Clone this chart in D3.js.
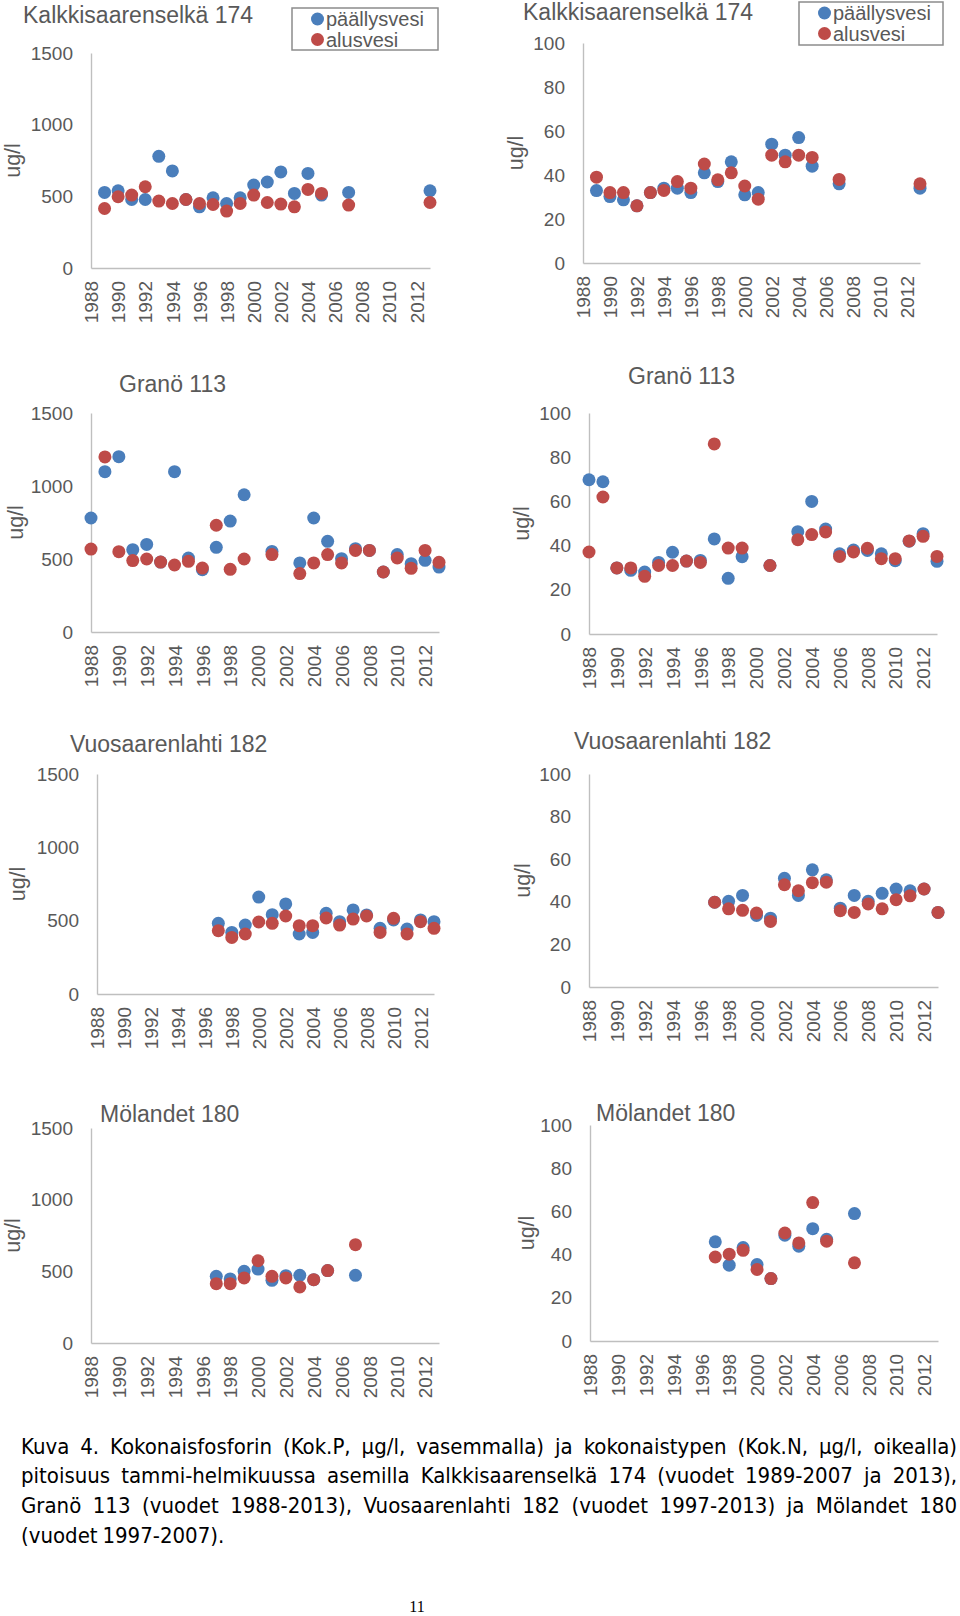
<!DOCTYPE html>
<html>
<head>
<meta charset="utf-8">
<script src="https://cdn.jsdelivr.net/npm/d3@7"></script>
<style>
  html, body { margin: 0; padding: 0; background: #fff; }
  svg { display: block; }
</style>
</head>
<body>
<svg id="chart" width="960" height="1616"></svg>
<script>
// ---------------- DATA ----------------
const categories = [1988,1989,1990,1991,1992,1993,1994,1995,1996,1997,1998,1999,2000,
                    2001,2002,2003,2004,2005,2006,2007,2008,2009,2010,2011,2012,2013];
const xTickLabels = ["1988","1990","1992","1994","1996","1998","2000","2002","2004","2006","2008","2010","2012"];
const yTicksP = [0, 500, 1000, 1500];
const yTicksN = [0, 20, 40, 60, 80, 100];
const seriesNames = ["päällysvesi", "alusvesi"];

// Kalkkisaarenselkä 174
const kalkYears = [1989,1990,1991,1992,1993,1994,1995,1996,1997,1998,1999,2000,2001,2002,2003,2004,2005,2007,2013];
const kalkP_surface = [527,539,478,478,779,677,478,427,490,450,490,579,600,670,520,660,509,527,539];
const kalkP_bottom  = [415,497,509,567,467,450,478,450,443,397,450,509,457,446,427,548,520,439,457];
const kalkN_surface = [32.9,30.2,28.7,26,32,34,34,32,41,37,46,31,32,54,49,57,44,36,34];
const kalkN_bottom  = [39,32,32,26,32,33,37,34,45,37.8,41,35,29,49,46,49,48,38,36];

// Granö 113
const granoYears = [1988,1989,1990,1991,1992,1993,1994,1995,1996,1997,1998,1999,2001,2003,2004,2005,2006,2007,2008,2009,2010,2011,2012,2013];
const granoP_surface = [781,1098,1201,564,600,479,1098,507,427,580,760,940,552,473,781,621,502,571,559,411,530,468,491,445];
const granoP_bottom  = [568,1199,550,489,500,479,459,484,438,731,429,500,530,400,473,530,473,559,559,411,507,436,559,477];
const granoN_surface = [69.8,68.9,29.9,28.8,28,32.4,37,33,33.3,43,25.2,35,31,46.3,60,47.5,36.3,38,37.8,36.3,33.2,42,45.4,32.9];
const granoN_bottom  = [37.1,62,29.9,29.9,26.1,31,31,33,32.4,86,38.9,38.9,31,42.7,45,46.2,35.1,37.1,38.8,34.1,34.1,42.1,44.2,35.1];

// Vuosaarenlahti 182
const vuoYears = [1997,1998,1999,2000,2001,2002,2003,2004,2005,2006,2007,2008,2009,2010,2011,2012,2013];
const vuoP_surface = [482,420,470,661,541,614,409,420,550,493,573,539,448,505,443,505,493];
const vuoP_bottom  = [432,386,409,491,482,532,466,466,518,470,511,532,420,516,409,493,448];
const vuoN_surface = [39.8,40.2,43,33.6,32.3,51,43,55,50.3,37,43,40.2,44,46,45.2,46,35];
const vuoN_bottom  = [39.8,36.7,36,34.7,30.8,48,45.2,49,49.2,35.8,35,39,36.7,41,42.8,46,35];

// Mölandet 180
const molYears = [1997,1998,1999,2000,2001,2002,2003,2004,2005,2007];
const molP_surface = [465,447,500,516,437,470,472,442,505,472];
const molP_bottom  = [414,414,454,574,465,454,391,442,505,686];
const molN_surface = [45.9,35.1,43.3,35.4,28.9,49,43.9,52,47.1,59];
const molN_bottom  = [38.9,40.2,42,33.1,28.9,50,45.4,64.1,46.2,36.2];

const captionLines = [
  "Kuva 4. Kokonaisfosforin (Kok.P, µg/l, vasemmalla) ja kokonaistypen (Kok.N, µg/l, oikealla)",
  "pitoisuus tammi-helmikuussa asemilla Kalkkisaarenselkä 174 (vuodet 1989-2007 ja 2013),",
  "Granö 113 (vuodet 1988-2013), Vuosaarenlahti 182 (vuodet 1997-2013) ja Mölandet 180",
  "(vuodet 1997-2007)."
];
const pageNumber = "11";

// ---------------- LAYOUT ----------------
const COLORS = ["#4A7EBB", "#BE4B48"];
const FONT = "'Liberation Sans', Arial, Helvetica, sans-serif";
const TXT = "#595959";
const AXIS = "#BFBFBF";

const panels = [
  {title:"Kalkkisaarenselkä 174", years:kalkYears, s:kalkP_surface, b:kalkP_bottom, ticks:yTicksP, max:1500,
   x0:91, x1:430, yT:53, y0:268, tx:23, ty:23, ylx:13, legend:{x:292,y:8,w:146,h:42}},
  {title:"Kalkkisaarenselkä 174", years:kalkYears, s:kalkN_surface, b:kalkN_bottom, ticks:yTicksN, max:100,
   x0:583, x1:920, yT:43, y0:263, tx:523, ty:20, ylx:516, legend:{x:799,y:2,w:144,h:43}},
  {title:"Granö 113", years:granoYears, s:granoP_surface, b:granoP_bottom, ticks:yTicksP, max:1500,
   x0:91, x1:439, yT:413, y0:632, tx:119, ty:392, ylx:16},
  {title:"Granö 113", years:granoYears, s:granoN_surface, b:granoN_bottom, ticks:yTicksN, max:100,
   x0:589, x1:937, yT:413, y0:634, tx:628, ty:384, ylx:522},
  {title:"Vuosaarenlahti 182", years:vuoYears, s:vuoP_surface, b:vuoP_bottom, ticks:yTicksP, max:1500,
   x0:97, x1:434, yT:774, y0:994, tx:70, ty:752, ylx:18},
  {title:"Vuosaarenlahti 182", years:vuoYears, s:vuoN_surface, b:vuoN_bottom, ticks:yTicksN, max:100,
   x0:589, x1:938, yT:774, y0:987, tx:574, ty:749, ylx:523},
  {title:"Mölandet 180", years:molYears, s:molP_surface, b:molP_bottom, ticks:yTicksP, max:1500,
   x0:91, x1:439, yT:1128, y0:1343, tx:100, ty:1122, ylx:13},
  {title:"Mölandet 180", years:molYears, s:molN_surface, b:molN_bottom, ticks:yTicksN, max:100,
   x0:590, x1:938, yT:1125, y0:1341, tx:596, ty:1121, ylx:527}
];

const svg = d3.select("#chart");

panels.forEach(p => {
  const g = svg.append("g");
  const x = d3.scaleLinear().domain([categories[0], categories[categories.length-1]]).range([p.x0, p.x1]);
  const y = d3.scaleLinear().domain([0, p.max]).range([p.y0, p.yT]);

  // Y axis
  const ya = g.append("g").attr("transform", `translate(${p.x0},0)`)
    .call(d3.axisLeft(y).tickValues(p.ticks).tickFormat(d3.format("d"))
          .tickSize(0).tickSizeOuter(0).tickPadding(18));
  ya.select(".domain").attr("stroke", AXIS).attr("stroke-width", 1.4);
  ya.selectAll("text").attr("fill", TXT).style("font-family", FONT).style("font-size", "19px");

  // X axis
  const xa = g.append("g").attr("transform", `translate(0,${p.y0})`)
    .call(d3.axisBottom(x).tickValues(xTickLabels.map(Number)).tickFormat(d => String(d))
          .tickSize(0).tickSizeOuter(0));
  xa.select(".domain").attr("stroke", AXIS).attr("stroke-width", 1.4);
  xa.selectAll("text")
    .attr("transform", "rotate(-90)")
    .attr("x", -13).attr("y", 0).attr("dy", "0.35em")
    .style("text-anchor", "end")
    .attr("fill", TXT).style("font-family", FONT).style("font-size", "19px");

  // Y label
  g.append("text")
    .attr("transform", `translate(${p.ylx},${(p.yT + p.y0) / 2}) rotate(-90)`)
    .attr("text-anchor", "middle").attr("dominant-baseline", "central")
    .attr("fill", TXT).style("font-family", FONT).style("font-size", "21.5px")
    .text("ug/l");

  // Title
  g.append("text").attr("x", p.tx).attr("y", p.ty)
    .attr("fill", TXT).style("font-family", FONT).style("font-size", "23px")
    .text(p.title);

  // Points: surface (blue) then bottom (red) on top
  [p.s, p.b].forEach((vals, si) => {
    const pts = p.years.map((yr, i) => ({yr, v: vals[i]})).filter(d => d.v != null);
    g.append("g").selectAll("circle").data(pts).join("circle")
      .attr("cx", d => x(d.yr)).attr("cy", d => y(d.v)).attr("r", 6.5)
      .attr("fill", COLORS[si]);
  });

  // Legend
  if (p.legend) {
    const L = p.legend;
    const lg = g.append("g");
    lg.append("rect").attr("x", L.x).attr("y", L.y).attr("width", L.w).attr("height", L.h)
      .attr("fill", "#fff").attr("stroke", "#8C8C8C").attr("stroke-width", 1.5);
    seriesNames.forEach((name, i) => {
      const cy = L.y + 11 + i * 20.5;
      lg.append("circle").attr("cx", L.x + 25.5).attr("cy", cy).attr("r", 6.5).attr("fill", COLORS[i]);
      lg.append("text").attr("x", L.x + 34).attr("y", cy).attr("dominant-baseline", "central")
        .attr("fill", TXT).style("font-family", FONT).style("font-size", "20px").text(name);
    });
  }
});

// ---------------- CAPTION (justified) ----------------
const capFont = "'Liberation Sans Narrow', 'Arial Narrow', 'DejaVu Sans Condensed', 'Liberation Sans', sans-serif";
const capLeft = 21, capRight = 957;
const capBaselines = [1454, 1483, 1513, 1543];
const measure = svg.append("text").style("font-family", capFont).style("visibility", "hidden");
function wordWidths(words, size) {
  measure.style("font-size", size + "px");
  return words.map(w => { measure.text(w); return measure.node().getComputedTextLength(); });
}
// choose a size so the first (densest) line fills the width with normal word gaps
let capSize = 22;
{
  const words = captionLines[0].split(" ");
  let ws = wordWidths(words, capSize);
  while (d3.sum(ws) + capSize * 0.3 * (words.length - 1) > capRight - capLeft && capSize > 12) {
    capSize -= 0.25; ws = wordWidths(words, capSize);
  }
}
captionLines.forEach((line, li) => {
  const words = line.split(" ");
  const ws = wordWidths(words, capSize);
  let gap;
  if (li < 3) gap = (capRight - capLeft - d3.sum(ws)) / (words.length - 1);
  else gap = capSize * 0.22;
  const t = svg.append("text").attr("y", capBaselines[li])
    .style("font-family", capFont).style("font-size", capSize + "px").attr("fill", "#000");
  let cx = capLeft;
  words.forEach((w, i) => {
    t.append("tspan").attr("x", cx).text(w);
    cx += ws[i] + gap;
  });
});
measure.remove();

svg.append("text").attr("x", 417).attr("y", 1612).attr("text-anchor", "middle")
  .style("font-family", "'Liberation Serif', 'Times New Roman', serif").style("font-size", "16px")
  .attr("fill", "#000").text(pageNumber);
</script>
</body>
</html>
